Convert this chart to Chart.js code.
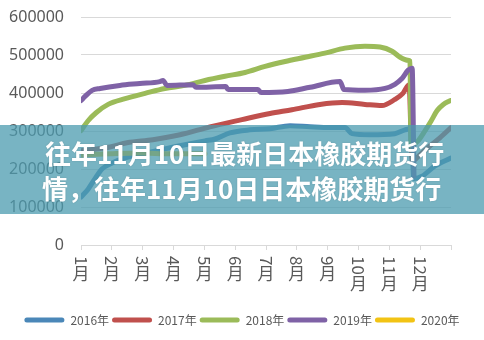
<!DOCTYPE html>
<html>
<head>
<meta charset="utf-8">
<script src="https://cdn.jsdelivr.net/npm/chart.js"></script>
<style>
    body { margin: 0; background: #fff; }
    #wrap { position: relative; width: 484px; height: 340px; }
    #banner {
        position: absolute;
        left: 0; top: 125px;
        width: 484px; height: 89px;
        box-sizing: border-box;
        padding: 10px 0 0 45px;
        background: rgba(75, 155, 175, 0.75);
        color: #fff;
        font-family: "Noto Sans CJK SC", sans-serif;
        font-weight: 700;
        font-size: 26px;
        line-height: 35px;
        white-space: nowrap;
        overflow: hidden;
        text-shadow: 0 0 2px rgba(0, 0, 0, 0.15);
    }
</style>
</head>
<body>
<div id="wrap">
    <canvas id="rubber-canvas"></canvas>
    <div id="banner">往年11月10日最新日本橡胶期货行<br><span style="margin-left:-3px">情，往年11月10日日本橡胶期货行</span></div>
</div>
<script>
// month ticks, 0 = start of January, 12 = end of December
const tickLabels = ['1月', '2月', '3月', '4月', '5月', '6月', '7月', '8月', '9月', '10月', '11月', '12月'];
const seriesNames = ['2016年', '2017年', '2018年', '2019年', '2020年'];
const seriesColors = ['#4a87b8', '#c0504d', '#9bbb59', '#7f62a6', '#f2c314'];

// [month, price]
const price2016 = [
    [0, 126000], [0.23, 147000], [0.45, 174000], [0.68, 200000], [1.01, 216000],
    [1.43, 229000], [2.08, 242000], [2.72, 253000], [3.37, 264000], [4.02, 274000],
    [4.35, 279000], [4.83, 295000], [5.48, 303000], [6.13, 306000], [6.78, 314000],
    [7.43, 311000], [8.08, 309000], [8.56, 309000], [8.79, 293000], [9.37, 290000],
    [10.18, 293000], [10.51, 303000], [10.70, 306000], [10.80, 175000], [11.06, 181000],
    [11.48, 208000], [12, 229000]
];
const price2017 = [
    [0, 248000], [0.94, 258000], [1.49, 269000], [2.33, 277000], [3.21, 290000],
    [4.18, 311000], [5.22, 330000], [6.13, 346000], [6.84, 356000], [7.75, 370000],
    [8.47, 375000], [9.21, 370000], [9.76, 367000], [10.18, 383000], [10.44, 399000],
    [10.64, 422000], [10.74, 221000], [11.0, 238000], [11.32, 261000], [11.64, 282000],
    [12, 309000]
];
const price2018 = [
    [0, 301000], [0.23, 327000], [0.49, 348000], [0.88, 370000], [1.43, 385000],
    [2.08, 399000], [2.72, 412000], [3.37, 420000], [4.02, 433000], [4.67, 444000],
    [5.32, 454000], [5.97, 470000], [6.62, 483000], [7.27, 494000], [7.91, 505000],
    [8.56, 518000], [9.21, 523000], [9.70, 521000], [10.09, 510000], [10.35, 494000],
    [10.61, 486000], [10.67, 484000], [10.70, 261000], [10.93, 274000], [11.16, 301000],
    [11.36, 327000], [11.55, 354000], [11.75, 370000], [11.97, 380000]
];
const price2019 = [
    [0, 380000], [0.13, 391000], [0.36, 407000], [0.62, 412000], [1.26, 420000],
    [1.91, 425000], [2.56, 430000], [2.66, 433000], [2.79, 420000], [3.63, 422000],
    [3.73, 415000], [4.70, 417000], [4.77, 409000], [5.74, 409000], [5.84, 401000],
    [6.71, 404000], [7.43, 415000], [8.40, 430000], [8.53, 409000], [9.21, 407000],
    [9.86, 412000], [10.18, 423000], [10.41, 438000], [10.61, 460000], [10.74, 465000],
    [10.80, 181000]
];
const price2020 = [
    [0, 237000], [0.94, 240000], [1.91, 242000], [2.89, 240000], [4.02, 240000]
];

const allPrices = [price2016, price2017, price2018, price2019, price2020];

const LABEL_COLOR = '#595959';
const GRID_COLOR = '#d9d9d9';

// month labels are written vertically: digits turned sideways, 月 upright
const monthLabelPlugin = {
    id: 'monthLabels',
    afterDraw(chart) {
        const ctx = chart.ctx;
        const xs = chart.scales.x;
        ctx.save();
        ctx.fillStyle = LABEL_COLOR;
        ctx.font = '17px "Noto Sans CJK SC", sans-serif';
        tickLabels.forEach((label, i) => {
            const x = xs.getPixelForValue(i);
            const top = xs.top + 11;
            const digits = label.slice(0, -1);
            const w = ctx.measureText(digits).width;

            ctx.save();
            ctx.translate(x, top);
            ctx.rotate(Math.PI / 2);
            ctx.textAlign = 'left';
            ctx.textBaseline = 'middle';
            ctx.fillText(digits, 0, 0);
            ctx.restore();

            ctx.textAlign = 'center';
            ctx.textBaseline = 'top';
            ctx.fillText('月', x, top + w);
        });
        ctx.restore();
    }
};

function build_datasets() {
    return allPrices.map((prices, i) => ({
        label: seriesNames[i],
        data: prices.map(p => ({ x: p[0], y: p[1] })),
        borderColor: seriesColors[i],
        backgroundColor: seriesColors[i],
        borderWidth: 5,
        pointRadius: 0,
        cubicInterpolationMode: 'monotone',
        borderCapStyle: 'round',
        borderJoinStyle: 'round',
        // later years sit on top
        order: allPrices.length - 1 - i
    }));
}

Chart.defaults.font.family = '"Noto Sans", "Noto Sans CJK SC", sans-serif';
Chart.defaults.color = LABEL_COLOR;

const ctx = document.getElementById('rubber-canvas').getContext('2d');
new Chart(ctx, {
    type: 'line',
    data: { datasets: build_datasets() },
    options: {
        responsive: true,
        maintainAspectRatio: false,
        animation: false,
        layout: {
            padding: { top: 17, left: 8, right: 8, bottom: 4 }
        },
        plugins: {
            tooltip: { enabled: false },
            legend: {
                position: 'bottom',
                labels: {
                    boxWidth: 40,
                    boxHeight: 5,
                    padding: 3,
                    useBorderRadius: true,
                    borderRadius: 2.5,
                    color: LABEL_COLOR,
                    font: { size: 12, family: '"Noto Sans CJK SC", sans-serif' },
                    sort: (a, b) => a.datasetIndex - b.datasetIndex,
                    generateLabels(chart) {
                        const items = Chart.defaults.plugins.legend.labels.generateLabels(chart);
                        return items.map(item => ({ ...item, lineWidth: 0, strokeStyle: 'transparent' }));
                    }
                }
            }
        },
        scales: {
            x: {
                type: 'linear',
                min: 0,
                max: 12,
                ticks: { stepSize: 1, display: false },
                grid: {
                    drawOnChartArea: false,
                    drawTicks: true,
                    tickLength: 5,
                    color: GRID_COLOR
                },
                border: { color: GRID_COLOR },
                afterFit(scale) { scale.height = 66; }
            },
            y: {
                min: 0,
                max: 600000,
                ticks: {
                    stepSize: 100000,
                    padding: 17,
                    color: LABEL_COLOR,
                    font: { size: 16 },
                    callback: (v) => String(v)
                },
                grid: { color: GRID_COLOR, drawTicks: false },
                border: { display: false },
                afterFit(scale) {
                    scale.width = 73;
                    scale.paddingTop = 0;
                    scale.paddingBottom = 0;
                }
            },
            // empty margin on the right of the plot
            gutter: {
                type: 'linear',
                position: 'right',
                min: 0,
                max: 1,
                ticks: { display: false },
                grid: { display: false },
                border: { display: false },
                afterFit(scale) { scale.width = 25; }
            }
        }
    },
    plugins: [monthLabelPlugin]
});
</script>
</body>
</html>
